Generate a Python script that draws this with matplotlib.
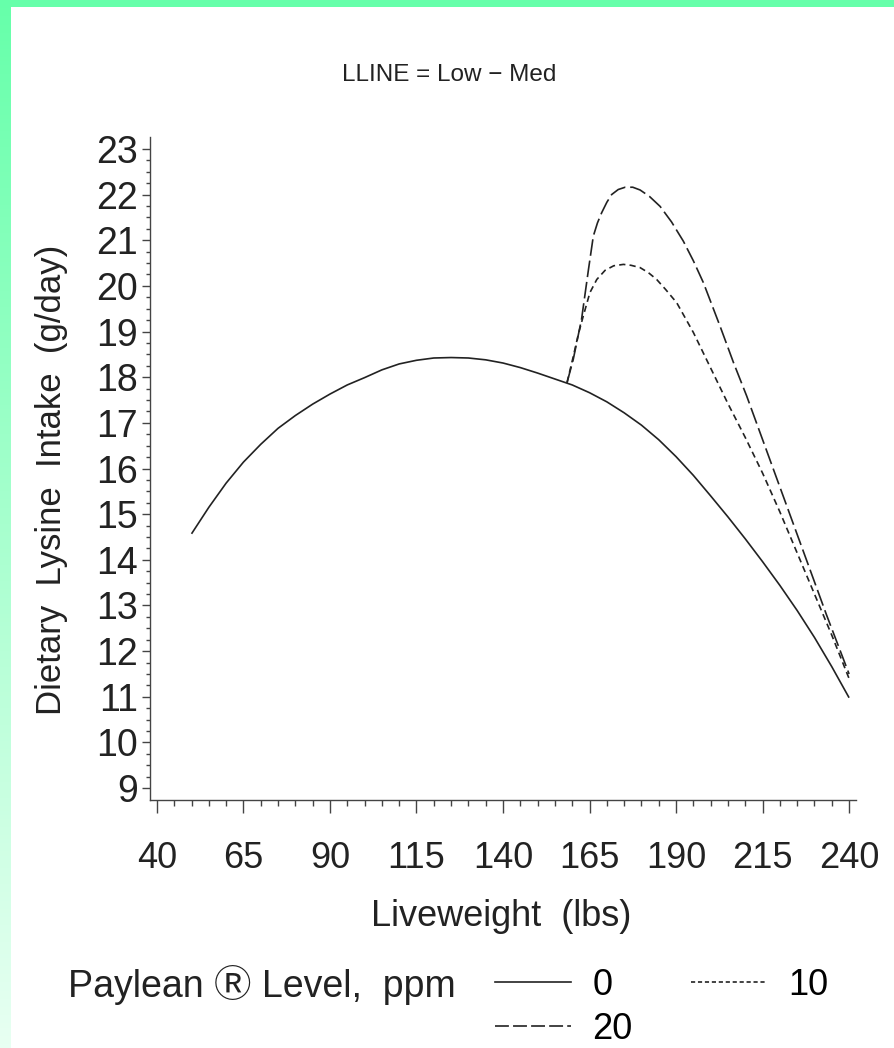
import numpy as np
import matplotlib
matplotlib.use("Agg")
import matplotlib.pyplot as plt
from matplotlib import font_manager
from matplotlib.lines import Line2D

# ---- data (liveweight in lbs, lysine intake in g/day) ----
wt_0 = [50, 55, 60, 65, 70, 75, 80, 85, 90, 95, 100, 105, 110, 115, 120, 125,
        130, 135, 140, 145, 150, 155, 160, 165, 170, 175, 180, 185, 190, 195,
        200, 205, 210, 215, 220, 225, 230, 235, 240]
lys_0 = [14.57, 15.15, 15.68, 16.14, 16.53, 16.88, 17.16, 17.41, 17.63, 17.83,
         17.99, 18.16, 18.29, 18.37, 18.42, 18.43, 18.42, 18.38, 18.31, 18.21,
         18.09, 17.96, 17.83, 17.66, 17.46, 17.22, 16.95, 16.63, 16.26, 15.85,
         15.40, 14.94, 14.46, 13.96, 13.44, 12.89, 12.30, 11.66, 10.98]

wt_10 = [158.5, 160.3, 161.8, 163.2, 165.1, 167.1, 169.5, 172.0, 174.8, 177.0,
         179.6, 182.0, 184.4, 187.0, 190.2, 195, 200, 205, 210, 215, 220, 225,
         230, 235, 240]
lys_10 = [17.88, 18.45, 18.95, 19.34, 19.85, 20.14, 20.34, 20.44, 20.47, 20.45,
          20.40, 20.29, 20.14, 19.92, 19.63, 18.98, 18.20, 17.42, 16.68, 15.90,
          15.05, 14.15, 13.25, 12.35, 11.40]

wt_20 = [158.5, 160.3, 162.7, 164.7, 166.1, 167.3, 168.5, 170.0, 171.4, 173.3,
         175.3, 177.5, 179.6, 182.3, 185.4, 188.7, 192.1, 195.0, 197.9, 202.7,
         206.6, 210.4, 218.1, 225.8, 233.5, 240]
lys_20 = [17.88, 18.39, 19.27, 20.36, 21.09, 21.38, 21.60, 21.83, 22.00, 22.11,
          22.16, 22.16, 22.10, 21.96, 21.74, 21.40, 20.98, 20.55, 20.07, 19.12,
          18.32, 17.59, 15.99, 14.39, 12.79, 11.50]

levels = ["0", "10", "20"]
x_ticks = [40, 65, 90, 115, 140, 165, 190, 215, 240]
y_ticks = list(range(9, 24))

# ---- fonts ----
names = {f.name for f in font_manager.fontManager.ttflist}
narrow = "Liberation Sans Narrow" if "Liberation Sans Narrow" in names else "Liberation Sans"
plain = "Liberation Sans"
fallback = ["DejaVu Sans", "Noto Sans CJK JP"]
plt.rcParams["font.family"] = [plain] + fallback
plt.rcParams["lines.scale_dashes"] = False

W, H = 895, 1048
fig = plt.figure(figsize=(W / 100, H / 100), dpi=100)
fig.patch.set_facecolor("white")

# green frame: solid strip at the top, fading strip on the left
green = np.array([102, 255, 170]) / 255.0
fade = np.linspace(0, 1, 256)[:, None]
grad = green[None, None, :] * (1 - fade[..., None] * 0.85) + np.ones(3)[None, None, :] * fade[..., None] * 0.85
ax_l = fig.add_axes([0, 0, 11 / W, 1])
ax_l.imshow(grad, aspect="auto", extent=[0, 1, 0, 1], origin="upper")
ax_l.set_axis_off()
ax_t = fig.add_axes([0, 1 - 7 / H, 1, 7 / H])
ax_t.set_facecolor(green)
ax_t.set_xticks([]); ax_t.set_yticks([])
for s in ax_t.spines.values():
    s.set_visible(False)

# ---- main axes ----
L, R, B, T = 150, 856, 800, 137
ax = fig.add_axes([L / W, 1 - B / H, (R - L) / W, (B - T) / H])
ax.set_xlim(38, 242)
ax.set_ylim(8.74, 23.26)

ink = "#222222"
lw = 1.2
ax.plot(wt_0, lys_0, color=ink, lw=lw, solid_capstyle="butt")
l10, = ax.plot(wt_10, lys_10, color=ink, lw=lw)
l10.set_dashes([4.5, 3.0])
l20, = ax.plot(wt_20, lys_20, color=ink, lw=lw)
l20.set_dashes([12.0, 3.5])

for side in ("top", "right"):
    ax.spines[side].set_visible(False)
for side in ("left", "bottom"):
    ax.spines[side].set_color("#444444")
    ax.spines[side].set_linewidth(1.0)

ax.set_xticks(x_ticks)
ax.set_xticks(np.arange(40, 241, 5), minor=True)
ax.set_yticks(y_ticks)
ax.set_yticks(np.arange(9, 23.01, 0.25), minor=True)
ax.tick_params(axis="x", which="major", direction="out", length=9.5, width=1.0,
               color="#444444", pad=20, labelsize=26, labelcolor=ink)
ax.tick_params(axis="x", which="minor", direction="out", length=4.5, width=1.0,
               color="#444444")
ax.tick_params(axis="y", which="major", direction="out", length=5.5, width=1.0,
               color="#444444", pad=3, labelsize=27, labelcolor=ink)
ax.tick_params(axis="y", which="minor", direction="out", length=3, width=1.0,
               color="#444444")
ax.set_xticklabels([str(v) for v in x_ticks])
ax.set_yticklabels([str(v) for v in y_ticks])

fig.text(52 / W, 1 - 480 / H, "Dietary  Lysine  Intake  (g/day)", rotation=90,
         ha="center", va="center", fontsize=25, family=[narrow] + fallback, color=ink)
fig.text(501 / W, 1 - 917 / H, "Liveweight  (lbs)", ha="center", va="center",
         fontsize=26, family=[narrow] + fallback, color=ink)
fig.text(449 / W, 1 - 75 / H, "LLINE = Low \u2212 Med", ha="center", va="center",
         fontsize=17.5, family=[narrow] + fallback, color=ink)

# ---- legend ----
fig.text(68 / W, 1 - 985 / H, "Paylean \u24c7 Level,  ppm", ha="left", va="center",
         fontsize=27, family=[narrow] + fallback, color=ink)
h0 = Line2D([], [], color=ink, lw=lw)
h10 = Line2D([], [], color=ink, lw=lw, dashes=[3.0, 2.0])
h20 = Line2D([], [], color=ink, lw=lw, dashes=[10.0, 3.0])
fig.legend([h0, h20, h10], [levels[0], levels[2], levels[1]], ncol=2,
           loc="upper left", bbox_to_anchor=(495 / W, 1 - 968 / H),
           frameon=False, handlelength=2.1, handletextpad=0.6,
           columnspacing=1.6, labelspacing=0.25, borderpad=0, borderaxespad=0,
           prop={"family": [narrow] + fallback, "size": 26})

fig.savefig("out.png", dpi=100, facecolor="white")
